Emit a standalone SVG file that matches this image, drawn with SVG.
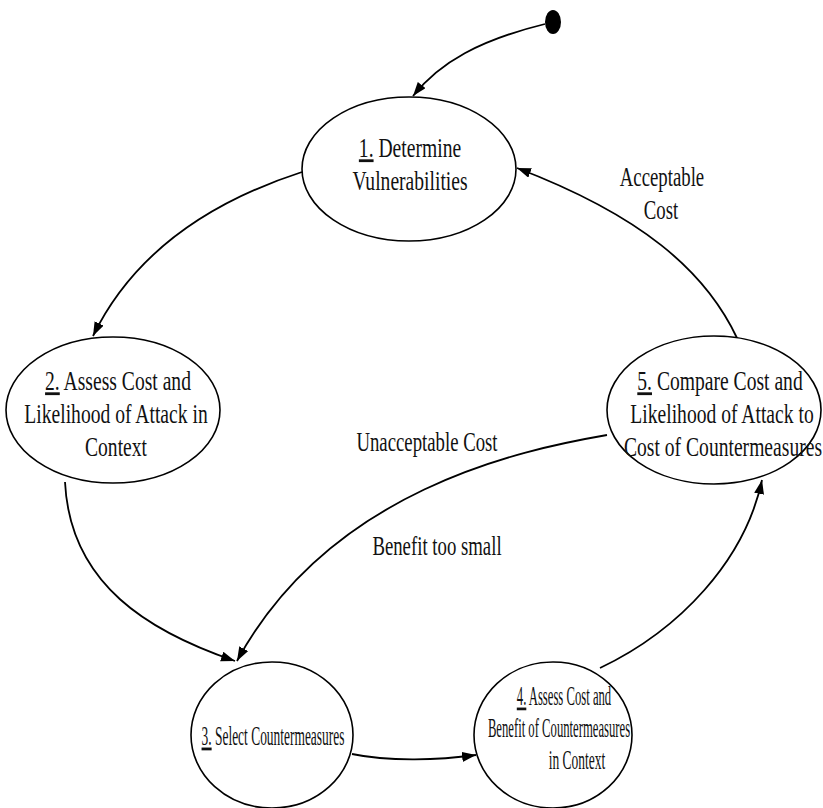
<svg xmlns="http://www.w3.org/2000/svg" width="823" height="808" viewBox="0 0 823 808">
  <style>
    .node ellipse { fill: #ffffff; stroke: #000000; stroke-width: 1.6; }
    .lbl { font-family: "Liberation Serif", "Times New Roman", serif; font-size: 28px; fill: #111111; text-anchor: middle; }
    .sm { font-size: 27px; }
    .edge-lbl { font-family: "Liberation Serif", "Times New Roman", serif; font-size: 28px; fill: #111111; text-anchor: middle; }
    .num { text-decoration: underline; }
    #edges path { fill: none; stroke: #000000; stroke-width: 1.8; }
  </style>
  <defs>
    <marker id="arrow" markerUnits="userSpaceOnUse" markerWidth="16" markerHeight="12" refX="14" refY="5" orient="auto">
      <path d="M0,0 L14,5 L0,10 z" fill="#000000"/>
    </marker>
  </defs>
  <rect width="823" height="808" fill="#ffffff"/>

  <!-- connectors -->
  <g id="edges">
    <path d="M545,24 C480,40 440,62 413,96" marker-end="url(#arrow)"/>
    <path d="M302,172 C200,205 130,260 93,336" marker-end="url(#arrow)"/>
    <path d="M65,482 C70,585 150,632 235,661" marker-end="url(#arrow)"/>
    <path d="M352,754 C390,762 440,760 476,755" marker-end="url(#arrow)"/>
    <path d="M600,668 C680,630 745,560 762,480" marker-end="url(#arrow)"/>
    <path d="M737,338 C705,270 640,215 517,168" marker-end="url(#arrow)"/>
    <path d="M607,435 C520,450 330,490 237,661" marker-end="url(#arrow)"/>
  </g>

  <!-- initial state -->
  <g id="start">
    <ellipse cx="553" cy="22" rx="8" ry="12" fill="#000000"/>
  </g>

  <g id="n1" class="node">
    <ellipse cx="409" cy="169" rx="107" ry="72"/>
    <text class="lbl" transform="translate(410,157) scale(0.7,1)"><tspan class="num">1.</tspan> Determine</text>
    <text class="lbl" transform="translate(410,190) scale(0.7,1)">Vulnerabilities</text>
  </g>

  <g id="n2" class="node">
    <ellipse cx="113" cy="410" rx="107" ry="73"/>
    <text class="lbl" transform="translate(118,390) scale(0.7,1)"><tspan class="num">2.</tspan> Assess Cost and</text>
    <text class="lbl" transform="translate(116,423) scale(0.7,1)">Likelihood of Attack in</text>
    <text class="lbl" transform="translate(116,456) scale(0.7,1)">Context</text>
  </g>

  <g id="n3" class="node">
    <ellipse cx="272" cy="735" rx="81" ry="73"/>
    <text class="lbl" transform="translate(273,745) scale(0.48,1)"><tspan class="num">3.</tspan> Select Countermeasures</text>
  </g>

  <g id="n4" class="node">
    <ellipse cx="553" cy="735" rx="79" ry="73"/>
    <text class="lbl sm" transform="translate(564,705) scale(0.47,1)"><tspan class="num">4.</tspan> Assess Cost and</text>
    <text class="lbl sm" transform="translate(559,737) scale(0.47,1)">Benefit of Countermeasures</text>
    <text class="lbl sm" transform="translate(577,769) scale(0.5,1)">in Context</text>
  </g>

  <g id="n5" class="node">
    <ellipse cx="714" cy="410" rx="107" ry="74"/>
    <text class="lbl" transform="translate(720,390) scale(0.7,1)"><tspan class="num">5.</tspan> Compare Cost and</text>
    <text class="lbl" transform="translate(722,423) scale(0.7,1)">Likelihood of Attack to</text>
    <text class="lbl" transform="translate(723,456) scale(0.7,1)">Cost of Countermeasures</text>
  </g>

  <!-- edge labels -->
  <g id="labels">
    <text class="edge-lbl" transform="translate(662,186) scale(0.67,1)">Acceptable</text>
    <text class="edge-lbl" transform="translate(661,219) scale(0.67,1)">Cost</text>
    <text class="edge-lbl" transform="translate(427,451) scale(0.67,1)">Unacceptable Cost</text>
    <text class="edge-lbl" transform="translate(437,555) scale(0.67,1)">Benefit too small</text>
  </g>
</svg>
